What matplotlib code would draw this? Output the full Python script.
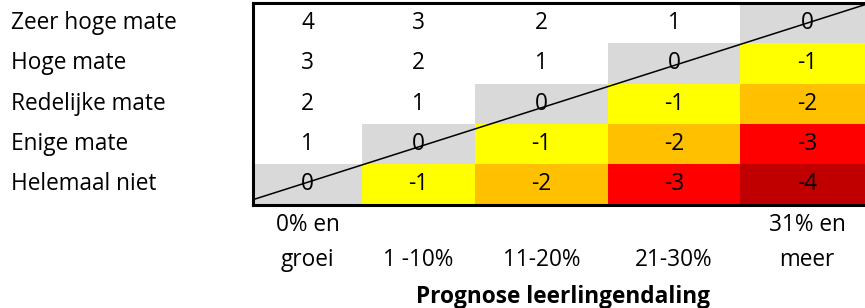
import matplotlib
matplotlib.use("Agg")
import matplotlib.pyplot as plt
from matplotlib.colors import ListedColormap, BoundaryNorm
import numpy as np

plt.rcParams["font.family"] = ["Open Sans", "DejaVu Sans"]

# data
rij_labels = ["Zeer hoge mate", "Hoge mate", "Redelijke mate", "Enige mate", "Helemaal niet"]
kolom_labels = ["0% en\ngroei", "1 -10%", "11-20%", "21-30%", "31% en\nmeer"]
x_titel = "Prognose leerlingendaling"
waarden = [
    [4, 3, 2, 1, 0],
    [3, 2, 1, 0, -1],
    [2, 1, 0, -1, -2],
    [1, 0, -1, -2, -3],
    [0, -1, -2, -3, -4],
]

# kleuren per score: -4 .. >=1
kleuren = ["#C00000", "#FF0000", "#FFC000", "#FFFF00", "#D9D9D9", "#FFFFFF"]
grenzen = [-4.5, -3.5, -2.5, -1.5, -0.5, 0.5, 10]

# layout in pixels
W, H = 865, 308
kol_breedte = [109, 113, 133, 132, 134]
tabel_links, tabel_top, rij_hoogte = 253, 3, 40.3
fs = 16.3

fig = plt.figure(figsize=(W / 100, H / 100), dpi=100)

tabel_breedte = sum(kol_breedte)
tabel_hoogte = rij_hoogte * len(rij_labels)
ax = fig.add_axes([tabel_links / W, 1 - (tabel_top + tabel_hoogte) / H,
                   tabel_breedte / W, tabel_hoogte / H])
x_edges = np.concatenate([[0], np.cumsum(kol_breedte)])
x_mid = (x_edges[:-1] + x_edges[1:]) / 2
y_edges = np.arange(len(rij_labels) + 1)
Z = np.array(waarden)[::-1]
cmap = ListedColormap(kleuren)
norm = BoundaryNorm(grenzen, cmap.N)
ax.pcolormesh(x_edges, y_edges, Z, cmap=cmap, norm=norm)
ax.set_xlim(0, tabel_breedte)
ax.set_ylim(0, len(rij_labels))
for i, rij in enumerate(Z):
    for j, v in enumerate(rij):
        ax.text(x_mid[j], i + 0.5, str(v),
                ha="center", va="center", fontsize=fs, color="black", zorder=1)
# diagonaal door de nul-cellen
ax.plot([0, tabel_breedte], [0.12, len(rij_labels) + 0.03], color="black", lw=1.1,
        zorder=3, clip_on=False)
ax.set_xticks([])
ax.set_yticks([])
for kant in ["left", "top", "bottom"]:
    ax.spines[kant].set_linewidth(2.2)
ax.spines["right"].set_visible(False)

# overlay for labels in pixel coordinates
ov = fig.add_axes([0, 0, 1, 1], zorder=-1)
ov.set_xlim(0, W)
ov.set_ylim(H, 0)
ov.axis("off")
for i, lab in enumerate(rij_labels):
    ov.text(11, tabel_top + rij_hoogte * (i + 0.5), lab, ha="left", va="center", fontsize=fs)
for x, lab in zip(tabel_links + x_mid, kolom_labels):
    regels = lab.split("\n")
    if len(regels) == 2:
        ov.text(x, 225, regels[0], ha="center", va="center", fontsize=fs)
    ov.text(x, 260, regels[-1], ha="center", va="center", fontsize=fs)
ov.text(tabel_links + tabel_breedte / 2, 297, x_titel, ha="center", va="center",
        fontsize=fs, fontweight="bold")

fig.savefig("out.png", dpi=100)
